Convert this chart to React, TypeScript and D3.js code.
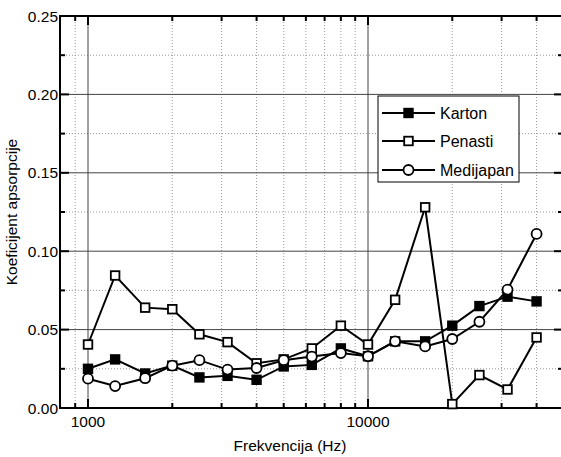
import React, { useEffect, useRef } from "react";
import * as d3 from "d3";

const frequencies = [1000, 1250, 1600, 2000, 2500, 3150, 4000, 5000, 6300, 8000, 10000, 12500, 16000, 20000, 25000, 31500, 40000];
const karton = [0.025, 0.031, 0.022, 0.027, 0.0195, 0.0205, 0.018, 0.0265, 0.0275, 0.038, 0.033, 0.0425, 0.0425, 0.0525, 0.065, 0.071, 0.068];
const penasti = [0.0405, 0.0845, 0.064, 0.063, 0.047, 0.042, 0.0285, 0.031, 0.038, 0.0525, 0.0405, 0.069, 0.128, 0.0025, 0.021, 0.0118, 0.045];
const medijapan = [0.0187, 0.014, 0.019, 0.027, 0.0305, 0.0245, 0.0255, 0.0305, 0.0328, 0.035, 0.033, 0.0425, 0.0393, 0.044, 0.055, 0.0755, 0.111];
const seriesNames = ["Karton", "Penasti", "Medijapan"];
const yTicks = [0, 0.05, 0.1, 0.15, 0.2, 0.25];
const xTickLabels = [1000, 10000];

const FONT = "'Liberation Sans', Arial, sans-serif";

const App = () => {
  const svgRef = useRef<SVGSVGElement>(null);

  useEffect(() => {
    const svg = d3.select(svgRef.current);
    svg.selectAll("*").remove();

    // plot box; the right border sits just past the picture edge
    const left = 60, right = 563, top = 16, bottom = 408;
    const x = d3.scaleLog()
      .domain([Math.pow(10, 2.9), Math.pow(10, 3 + (right - 88) / 280)])
      .range([left, right]);
    const y = d3.scaleLinear().domain([0, 0.25]).range([bottom, top]);

    const g = svg.append("g");

    // minor grid (dotted)
    const minorX: number[] = [900];
    for (let m = 2; m <= 9; m++) minorX.push(m * 1000);
    for (let m = 2; m <= 4; m++) minorX.push(m * 10000);
    const minorY = [0.025, 0.075, 0.125, 0.175, 0.225];

    g.selectAll(".gx-minor").data(minorX).join("line")
      .attr("x1", d => x(d)).attr("x2", d => x(d))
      .attr("y1", top).attr("y2", bottom)
      .attr("stroke", "#999").attr("stroke-width", 1).attr("stroke-dasharray", "1,2");
    g.selectAll(".gy-minor").data(minorY).join("line")
      .attr("x1", left).attr("x2", right)
      .attr("y1", d => y(d)).attr("y2", d => y(d))
      .attr("stroke", "#999").attr("stroke-width", 1).attr("stroke-dasharray", "1,2");

    // major grid
    g.selectAll(".gx-major").data(xTickLabels).join("line")
      .attr("x1", d => x(d)).attr("x2", d => x(d))
      .attr("y1", top).attr("y2", bottom)
      .attr("stroke", "#444").attr("stroke-width", 1);
    g.selectAll(".gy-major").data(yTicks.slice(1, -1)).join("line")
      .attr("x1", left).attr("x2", right)
      .attr("y1", d => y(d)).attr("y2", d => y(d))
      .attr("stroke", "#444").attr("stroke-width", 1);

    // ticks (inside, on all sides)
    const tickGroup = g.append("g").attr("stroke", "#000").attr("stroke-width", 2);
    [...minorX, ...xTickLabels].forEach(v => {
      const len = xTickLabels.includes(v) ? 9 : 5;
      tickGroup.append("line").attr("x1", x(v)).attr("x2", x(v)).attr("y1", bottom).attr("y2", bottom - len);
      tickGroup.append("line").attr("x1", x(v)).attr("x2", x(v)).attr("y1", top).attr("y2", top + len);
    });
    [...yTicks, ...minorY].forEach(v => {
      const len = yTicks.includes(v) ? 9 : 5;
      tickGroup.append("line").attr("x1", left).attr("x2", left + len).attr("y1", y(v)).attr("y2", y(v));
      tickGroup.append("line").attr("x1", right).attr("x2", right - len).attr("y1", y(v)).attr("y2", y(v));
    });

    // frame
    g.append("rect")
      .attr("x", left).attr("y", top)
      .attr("width", right - left).attr("height", bottom - top)
      .attr("fill", "none").attr("stroke", "#000").attr("stroke-width", 2);

    // tick labels
    g.selectAll(".ylab").data(yTicks).join("text")
      .attr("x", left - 2).attr("y", d => y(d) + 5.5)
      .attr("text-anchor", "end")
      .attr("font-family", FONT).attr("font-size", 15.5)
      .text(d => d3.format(".2f")(d));
    g.selectAll(".xlab").data(xTickLabels).join("text")
      .attr("x", d => x(d)).attr("y", 427)
      .attr("text-anchor", "middle")
      .attr("font-family", FONT).attr("font-size", 15.5)
      .text(d => String(d));

    // axis titles
    g.append("text")
      .attr("x", 290).attr("y", 451)
      .attr("text-anchor", "middle")
      .attr("font-family", FONT).attr("font-size", 15.5)
      .text("Frekvencija (Hz)");
    g.append("text")
      .attr("transform", `translate(17, ${(top + bottom) / 2}) rotate(-90)`)
      .attr("text-anchor", "middle")
      .attr("font-family", FONT).attr("font-size", 15.5)
      .text("Koeficijent apsorpcije");

    const allSeries = [karton, penasti, medijapan];
    const line = d3.line<number>()
      .x((d, i) => x(frequencies[i]))
      .y(d => y(d));

    const drawMarker = (sel: any, kind: number, cx: number, cy: number) => {
      if (kind === 2) {
        sel.append("circle").attr("cx", cx).attr("cy", cy).attr("r", 5)
          .attr("fill", "#fff").attr("stroke", "#000").attr("stroke-width", 1.8);
      } else {
        sel.append("rect").attr("x", cx - 4.3).attr("y", cy - 4.3)
          .attr("width", 8.6).attr("height", 8.6)
          .attr("fill", kind === 0 ? "#000" : "#fff")
          .attr("stroke", "#000").attr("stroke-width", 1.8);
      }
    };

    allSeries.forEach((values, k) => {
      const sg = g.append("g");
      sg.append("path").datum(values)
        .attr("d", line)
        .attr("fill", "none").attr("stroke", "#000").attr("stroke-width", 2);
      values.forEach((v, i) => drawMarker(sg, k, x(frequencies[i]), y(v)));
    });

    // legend
    const lg = g.append("g");
    lg.append("rect")
      .attr("x", 378).attr("y", 96).attr("width", 141).attr("height", 86)
      .attr("fill", "#fff").attr("stroke", "#000").attr("stroke-width", 1);
    const rows = [113, 141, 170];
    seriesNames.forEach((name, k) => {
      lg.append("line").attr("x1", 382).attr("x2", 435).attr("y1", rows[k]).attr("y2", rows[k])
        .attr("stroke", "#000").attr("stroke-width", 2);
      drawMarker(lg, k, 408.5, rows[k]);
      lg.append("text").attr("x", 440).attr("y", rows[k] + 6)
        .attr("font-family", FONT).attr("font-size", 16)
        .text(name);
    });
  }, []);

  return (
    <svg
      ref={svgRef}
      width={561}
      height={457}
      style={{ position: "absolute", left: 0, top: 0, background: "#fff" }}
    />
  );
};

export default App;
